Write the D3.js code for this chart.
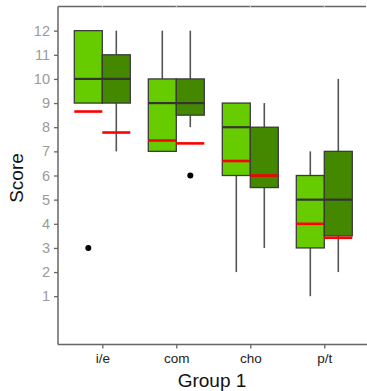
<!DOCTYPE html>
<html><head><meta charset="utf-8">
<script src="https://cdn.jsdelivr.net/npm/d3@7"></script>
<style>body{margin:0;background:#fff}svg{display:block;font-family:"Liberation Sans",Arial,sans-serif}</style>
</head><body><svg id="c" width="367" height="391"></svg>
<script>
const categories = ["i/e","com","cho","p/t"];
const series = ["A","B"];
const colors = ["#66cc00","#448800"];
// [q1, median, q3, whiskerLow, whiskerHigh, mean] per series per category
const seriesA = [[9,10,12,9,12,8.65],[7,9,10,7,12,7.45],[6,8,9,2,9,6.6],[3,5,6,1,7,4.0]];
const seriesB = [[9,10,11,7,12,7.78],[8.5,9,10,8,12,7.33],[5.5,6,8,3,9,6.0],[3.5,5,7,2,10,3.42]];
const outliersA = [[3],[],[],[]];
const outliersB = [[],[6],[],[]];
const yTicks = [1,2,3,4,5,6,7,8,9,10,11,12];

(function(){
const svg = d3.select("#c");
const mL = 58, mR = 366, mT = 6.5, mB = 344.5;
const y = d3.scaleLinear().domain([-1,13]).range([mB, mT]);
const step = 74;
const x = d3.scalePoint().domain(categories).range([102.3, 102.3 + 3*step]);
const bw = 28;

svg.append("line").attr("x1",mL).attr("x2",mR).attr("y1",mT).attr("y2",mT)
  .attr("stroke","#666").attr("stroke-width",1.5);
categories.forEach(c=>{
  svg.append("line").attr("x1",x(c)).attr("x2",x(c)).attr("y1",mT-1).attr("y2",mT+1)
   .attr("stroke","#ddd").attr("stroke-width",1);
});

const data = [seriesA, seriesB];
const outs = [outliersA, outliersB];
categories.forEach((c,i)=>{
  data.forEach((s,k)=>{
    const d = s[i];
    const x0 = x(c) - bw + k*bw, xm = x0 + bw/2;
    const g = svg.append("g");
    g.append("line").attr("x1",xm).attr("x2",xm).attr("y1",y(d[4])).attr("y2",y(d[2]))
      .attr("stroke","#555").attr("stroke-width",1.6);
    g.append("line").attr("x1",xm).attr("x2",xm).attr("y1",y(d[0])).attr("y2",y(d[3]))
      .attr("stroke","#555").attr("stroke-width",1.6);
    g.append("rect").attr("x",x0).attr("y",y(d[2])).attr("width",bw).attr("height",y(d[0])-y(d[2]))
      .attr("fill",colors[k]).attr("stroke","#3a3a3a").attr("stroke-width",1.3);
    g.append("line").attr("x1",x0).attr("x2",x0+bw).attr("y1",y(d[1])).attr("y2",y(d[1]))
      .attr("stroke","#333").attr("stroke-width",2.2);
    g.append("line").attr("x1",x0).attr("x2",x0+bw).attr("y1",y(d[5])).attr("y2",y(d[5]))
      .attr("stroke","#ff0000").attr("stroke-width",2.6);
    outs[k][i].forEach(v=>{
      g.append("circle").attr("cx",xm).attr("cy",y(v)).attr("r",3).attr("fill","#000");
    });
  });
});

const ya = svg.append("g").attr("transform",`translate(${mL},0)`)
  .call(d3.axisLeft(y).tickValues(yTicks).tickSize(4).tickPadding(4));
ya.select(".domain").attr("d",`M0,${mT}V${mB}`).attr("stroke","#666").attr("stroke-width",1.5);
ya.selectAll(".tick line").attr("stroke","#666").attr("stroke-width",1.3);
ya.selectAll(".tick text").attr("fill","#9a9a9a").attr("font-size",14.5).attr("font-family","Liberation Sans, Arial, sans-serif");

const xa = svg.append("g").attr("transform",`translate(0,${mB})`)
  .call(d3.axisBottom(x).tickSize(4).tickPadding(5));
xa.select(".domain").attr("d",`M${mL},0H${mR+1}`).attr("stroke","#666").attr("stroke-width",1.5);
xa.selectAll(".tick line").attr("stroke","#666").attr("stroke-width",1.3);
xa.selectAll(".tick text").attr("fill","#222").attr("font-size",13.5).attr("font-family","Liberation Sans, Arial, sans-serif");

svg.append("text").attr("transform","translate(23,178) rotate(-90)").attr("text-anchor","middle")
  .attr("font-size",19).attr("fill","#111").text("Score");
svg.append("text").attr("x",212).attr("y",387).attr("text-anchor","middle")
  .attr("font-size",19).attr("fill","#111").text("Group 1");
})();
</script></body></html>
